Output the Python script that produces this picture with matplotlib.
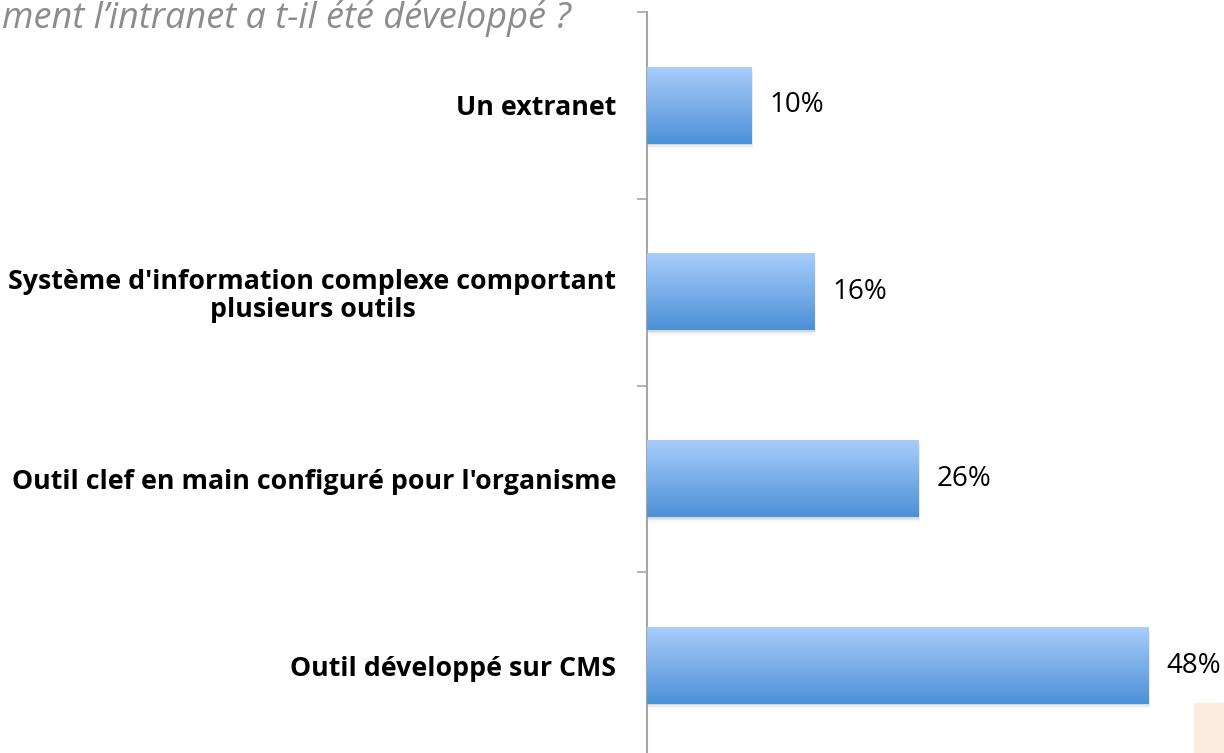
"""
Bar chart: how the intranet was developed (share of answers)
"""
import numpy as np
import matplotlib.pyplot as plt
from matplotlib.patches import Rectangle

categories = [
    "Un extranet",
    "Système d'information complexe comportant\nplusieurs outils",
    "Outil clef en main configuré pour l'organisme",
    "Outil développé sur CMS",
]
values = [10, 16, 26, 48]
value_labels = ["10%", "16%", "26%", "48%"]
title = "ment l’intranet a t-il été développé ?"

TOP_COLOR = np.array([0xA8, 0xCD, 0xFB]) / 255
BOTTOM_COLOR = np.array([0x4C, 0x90, 0xD6]) / 255

plt.rcParams['font.family'] = ['Open Sans', 'DejaVu Sans']

fig = plt.figure(figsize=(12.24, 7.53), dpi=100)
ax = fig.add_axes([647 / 1224, 1 - 759 / 753, (1224 - 647) / 1224, 747 / 753])

y = np.arange(len(categories))
bars = ax.barh(y, values, height=0.41, color='none', zorder=2)

# vertical gradient for each bar (light on top, darker at the bottom)
grad = np.linspace(0, 1, 256)[:, None]
grad_img = TOP_COLOR[None, None, :] * (1 - grad[..., None]) + BOTTOM_COLOR[None, None, :] * grad[..., None]
for bar in bars:
    x0, y0 = bar.get_x(), bar.get_y()
    w, h = bar.get_width(), bar.get_height()
    # soft shadow
    for k, a in enumerate([0.07, 0.05, 0.03]):
        ax.add_patch(Rectangle((x0 + 0.05 * (k + 1), y0 + 0.008 * (k + 1)), w, h,
                               color='#000000', alpha=a, lw=0, zorder=1))
    ax.imshow(grad_img, extent=(x0, x0 + w, y0 + h, y0), aspect='auto',
              interpolation='bicubic', zorder=3)

for bar, lab in zip(bars, value_labels):
    ax.annotate(lab, (bar.get_width(), bar.get_y() + bar.get_height() / 2),
                xytext=(13, 0), textcoords='offset points', va='center', ha='left',
                fontsize=20, color='black')

ax.set_xlim(0, 55.2)
ax.set_ylim(len(categories) - 0.5, -0.5)
ax.set_yticks(y)
ax.set_yticklabels(categories, fontsize=19.3, fontweight='bold', color='black')
for t in ax.get_yticklabels():
    t.set_multialignment('center')
    t.set_linespacing(1.1)
ax.set_yticks(np.arange(len(categories) + 1) - 0.5, minor=True)
ax.tick_params(axis='y', which='major', length=0, pad=22)
ax.tick_params(axis='y', which='minor', length=7.5, width=1.2, color='#A6A6A6', direction='out')
ax.set_xticks([])
for side in ['top', 'right', 'bottom']:
    ax.spines[side].set_visible(False)
ax.spines['left'].set_color('#A6A6A6')
ax.spines['left'].set_linewidth(1.5)

fig.text(0.002, 1 - 28 / 753, title, ha='left', va='baseline', fontsize=26,
         style='italic', color='#8C8C8C')

# small peach box in the lower right corner
fig.patches.append(Rectangle((1194 / 1224, 0), 30 / 1224, 50 / 753,
                             transform=fig.transFigure, color='#FCEBDF', lw=0))

fig.savefig('out.png', dpi=100)
